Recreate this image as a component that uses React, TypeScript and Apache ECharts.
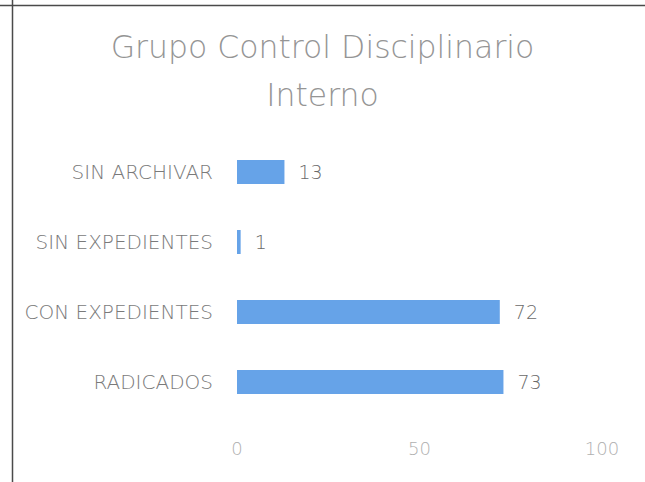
import React, { useEffect, useRef } from "react";
import * as echarts from "echarts";

const titleLines = ["Grupo Control Disciplinario", "Interno"];
const categories = ["RADICADOS", "CON EXPEDIENTES", "SIN EXPEDIENTES", "SIN ARCHIVAR"];
const values = [73, 72, 1, 13];
const axisTicks = [0, 50, 100];

export default function App() {
  const ref = useRef<HTMLDivElement>(null);
  useEffect(() => {
    const chart = echarts.init(ref.current!, null, { renderer: "svg" });
    const font = "DejaVu Sans";
    chart.setOption({
      animation: false,
      backgroundColor: "#ffffff",
      title: {
        text: titleLines.join("\n"),
        left: "center",
        top: 18,
        textStyle: {
          fontFamily: font,
          fontWeight: 200,
          fontSize: 31.5,
          color: "#959595",
          lineHeight: 48,
        },
      },
      graphic: [
        { type: "line", shape: { x1: 12.5, y1: 0, x2: 12.5, y2: 482 }, style: { stroke: "#4a4a4a", lineWidth: 1.5 } },
        { type: "line", shape: { x1: 0, y1: 5.5, x2: 645, y2: 5.5 }, style: { stroke: "#4a4a4a", lineWidth: 1.5 } },
      ],
      grid: { left: 237, right: 43, top: 137, bottom: 65 },
      xAxis: {
        type: "value",
        min: axisTicks[0],
        max: axisTicks[axisTicks.length - 1],
        interval: axisTicks[1] - axisTicks[0],
        splitLine: { show: false },
        axisLine: { show: false },
        axisTick: { show: false },
        axisLabel: { margin: 22, fontFamily: font, fontWeight: 200, fontSize: 18, color: "#b0b0b0" },
      },
      yAxis: {
        type: "category",
        data: categories,
        axisLine: { show: false },
        axisTick: { show: false },
        axisLabel: { margin: 24, fontFamily: font, fontWeight: 200, fontSize: 20, color: "#7a7a7a" },
      },
      series: [
        {
          type: "bar",
          data: values,
          barWidth: 24,
          itemStyle: { color: "#66a3e8" },
          label: {
            show: true,
            position: "right",
            distance: 14,
            fontFamily: font,
            fontWeight: 200,
            fontSize: 19,
            color: "#6a6a6a",
          },
        },
      ],
    });
    return () => chart.dispose();
  }, []);
  return <div ref={ref} style={{ position: "absolute", left: 0, top: 0, width: 645, height: 482 }} />;
}
